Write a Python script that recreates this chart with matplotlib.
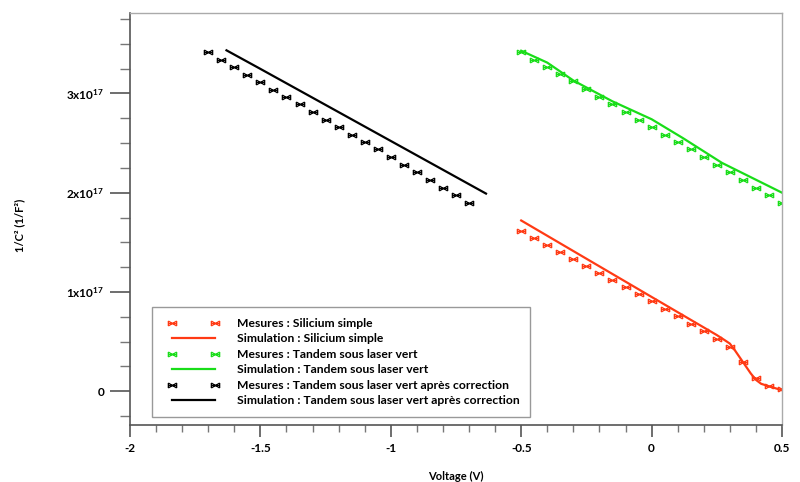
import numpy as np
import matplotlib
matplotlib.use("Agg")
import matplotlib.pyplot as plt
from matplotlib.path import Path
from matplotlib.lines import Line2D
from matplotlib.legend_handler import HandlerLine2D
from matplotlib.ticker import FixedLocator, MultipleLocator, FuncFormatter

plt.rcParams["font.family"] = ["Lato", "DejaVu Sans"]
plt.rcParams["font.weight"] = "bold"
plt.rcParams["mathtext.fontset"] = "custom"
plt.rcParams["mathtext.rm"] = "Lato:bold"
plt.rcParams["mathtext.bf"] = "Lato:bold"
plt.rcParams["mathtext.it"] = "Lato:bold"

# values of 1/C^2 are in units of 1e17 (1/F^2)
v_meas = [-0.5, -0.45, -0.4, -0.35, -0.3, -0.25, -0.2, -0.15, -0.1, -0.05, 0.0,
          0.05, 0.1, 0.15, 0.2, 0.25, 0.3, 0.35, 0.4, 0.45, 0.5]
v_meas_corr = [-1.7, -1.65, -1.6, -1.55, -1.5, -1.45, -1.4, -1.35, -1.3, -1.25, -1.2,
               -1.15, -1.1, -1.05, -1.0, -0.95, -0.9, -0.85, -0.8, -0.75, -0.7]

si_meas = [1.615, 1.544, 1.477, 1.406, 1.333, 1.262, 1.192, 1.121, 1.047, 0.977, 0.906,
           0.829, 0.758, 0.681, 0.604, 0.530, 0.446, 0.299, 0.138, 0.057, 0.020]
si_sim_v = [-0.5, -0.25, 0.0, 0.25, 0.28, 0.30, 0.32, 0.35, 0.38, 0.40, 0.42, 0.45, 0.5]
si_sim = [1.72, 1.335, 0.95, 0.566, 0.515, 0.48, 0.41, 0.295, 0.18, 0.115, 0.075, 0.05, 0.01]

tandem_meas = [3.417, 3.340, 3.266, 3.192, 3.122, 3.045, 2.964, 2.890, 2.816, 2.736, 2.662,
               2.585, 2.508, 2.437, 2.360, 2.283, 2.205, 2.128, 2.051, 1.974, 1.897]
tandem_sim_v = [-0.5, -0.4, -0.3, -0.15, 0.0, 0.12, 0.27, 0.5]
tandem_sim = [3.43, 3.31, 3.13, 2.92, 2.74, 2.55, 2.30, 2.00]

corr_meas = [3.414, 3.337, 3.266, 3.189, 3.115, 3.038, 2.961, 2.890, 2.813, 2.736, 2.662,
             2.585, 2.508, 2.437, 2.360, 2.283, 2.205, 2.128, 2.051, 1.974, 1.897]
corr_sim_v = [-1.63, -1.5, -1.25, -1.0, -0.75, -0.635]
corr_sim = [3.434, 3.247, 2.884, 2.521, 2.158, 1.991]

labels = ["Mesures : Silicium simple",
          "Simulation : Silicium simple",
          "Mesures : Tandem sous laser vert",
          "Simulation : Tandem sous laser vert",
          "Mesures : Tandem sous laser vert après correction",
          "Simulation : Tandem sous laser vert après correction"]

RED = "#ff3a14"
GREEN = "#19dd19"
BLACK = "#000000"

# bow-tie / asterisk marker like the Origin one
verts = [(-1, -0.6), (1, 0.6), (-1, 0.6), (1, -0.6), (-1, 0), (1, 0),
         (-1, -0.6), (-1, 0.6), (1, -0.6), (1, 0.6)]
codes = [Path.MOVETO, Path.LINETO] * 5
mk = Path(verts, codes)

S = 1e17
fig = plt.figure(figsize=(8, 4.82), dpi=100)
ax = fig.add_axes([130 / 800, 1 - 425 / 482, 652 / 800, 412 / 482])

ax.plot(v_meas, np.array(si_meas) * S, ls="none", marker=mk, ms=6, mew=0.9,
        mec=RED, mfc="none", label=labels[0])
ax.plot(si_sim_v, np.array(si_sim) * S, color=RED, lw=1.6, label=labels[1])
ax.plot(v_meas, np.array(tandem_meas) * S, ls="none", marker=mk, ms=6, mew=0.9,
        mec=GREEN, mfc="none", label=labels[2])
ax.plot(tandem_sim_v, np.array(tandem_sim) * S, color=GREEN, lw=1.6, label=labels[3])
ax.plot(v_meas_corr, np.array(corr_meas) * S, ls="none", marker=mk, ms=6, mew=0.9,
        mec=BLACK, mfc="none", label=labels[4])
ax.plot(corr_sim_v, np.array(corr_sim) * S, color=BLACK, lw=1.6, label=labels[5])

ax.set_xlim(-2, 0.5)
ax.set_ylim(-0.34 * S, 3.81 * S)

ax.xaxis.set_major_locator(MultipleLocator(0.5))
ax.xaxis.set_minor_locator(MultipleLocator(0.1))
ax.xaxis.set_major_formatter(FuncFormatter(lambda v, p: "%g" % v))
ax.yaxis.set_major_locator(FixedLocator([0, S, 2 * S, 3 * S]))
ax.yaxis.set_minor_locator(MultipleLocator(0.25 * S))


def yfmt(v, p):
    n = int(round(v / S))
    return "0" if n == 0 else "%dx10$^{17}$" % n


ax.yaxis.set_major_formatter(FuncFormatter(yfmt))

dark = "#555555"
for s in ["left", "bottom"]:
    ax.spines[s].set_color(dark)
    ax.spines[s].set_linewidth(1.2)
for s in ["top", "right"]:
    ax.spines[s].set_color("#aaaaaa")
    ax.spines[s].set_linewidth(1.0)

ax.tick_params(axis="y", which="major", length=14.4, width=1.2, color=dark,
               labelsize=8.5, pad=4)
ax.tick_params(axis="y", which="minor", length=7.2, width=1.0, color="#777777")
ax.tick_params(axis="x", which="major", length=8.6, width=1.2, color=dark,
               labelsize=8.5, pad=4)
ax.tick_params(axis="x", which="minor", length=5, width=1.0, color="#777777")

ax.set_xlabel("Voltage (V)", fontsize=8, fontweight="bold")
ax.xaxis.set_label_coords(0.5, -0.112)
ax.set_ylabel("1/C² (1/F²)", fontsize=8, fontweight="bold")
ax.yaxis.set_label_coords(-0.16, 0.485)

fs = 8.7
leg = ax.legend(loc="lower left", bbox_to_anchor=(0.0337, 0.0194), borderaxespad=0,
                fontsize=fs, numpoints=2, handlelength=4.31, handletextpad=1.82,
                labelspacing=0.37, borderpad=0.88, fancybox=False, framealpha=1,
                edgecolor="#999999",
                handler_map={Line2D: HandlerLine2D(marker_pad=0, xpad=0.75)})
leg.get_frame().set_linewidth(1.0)

fig.savefig("out.png", dpi=100)
